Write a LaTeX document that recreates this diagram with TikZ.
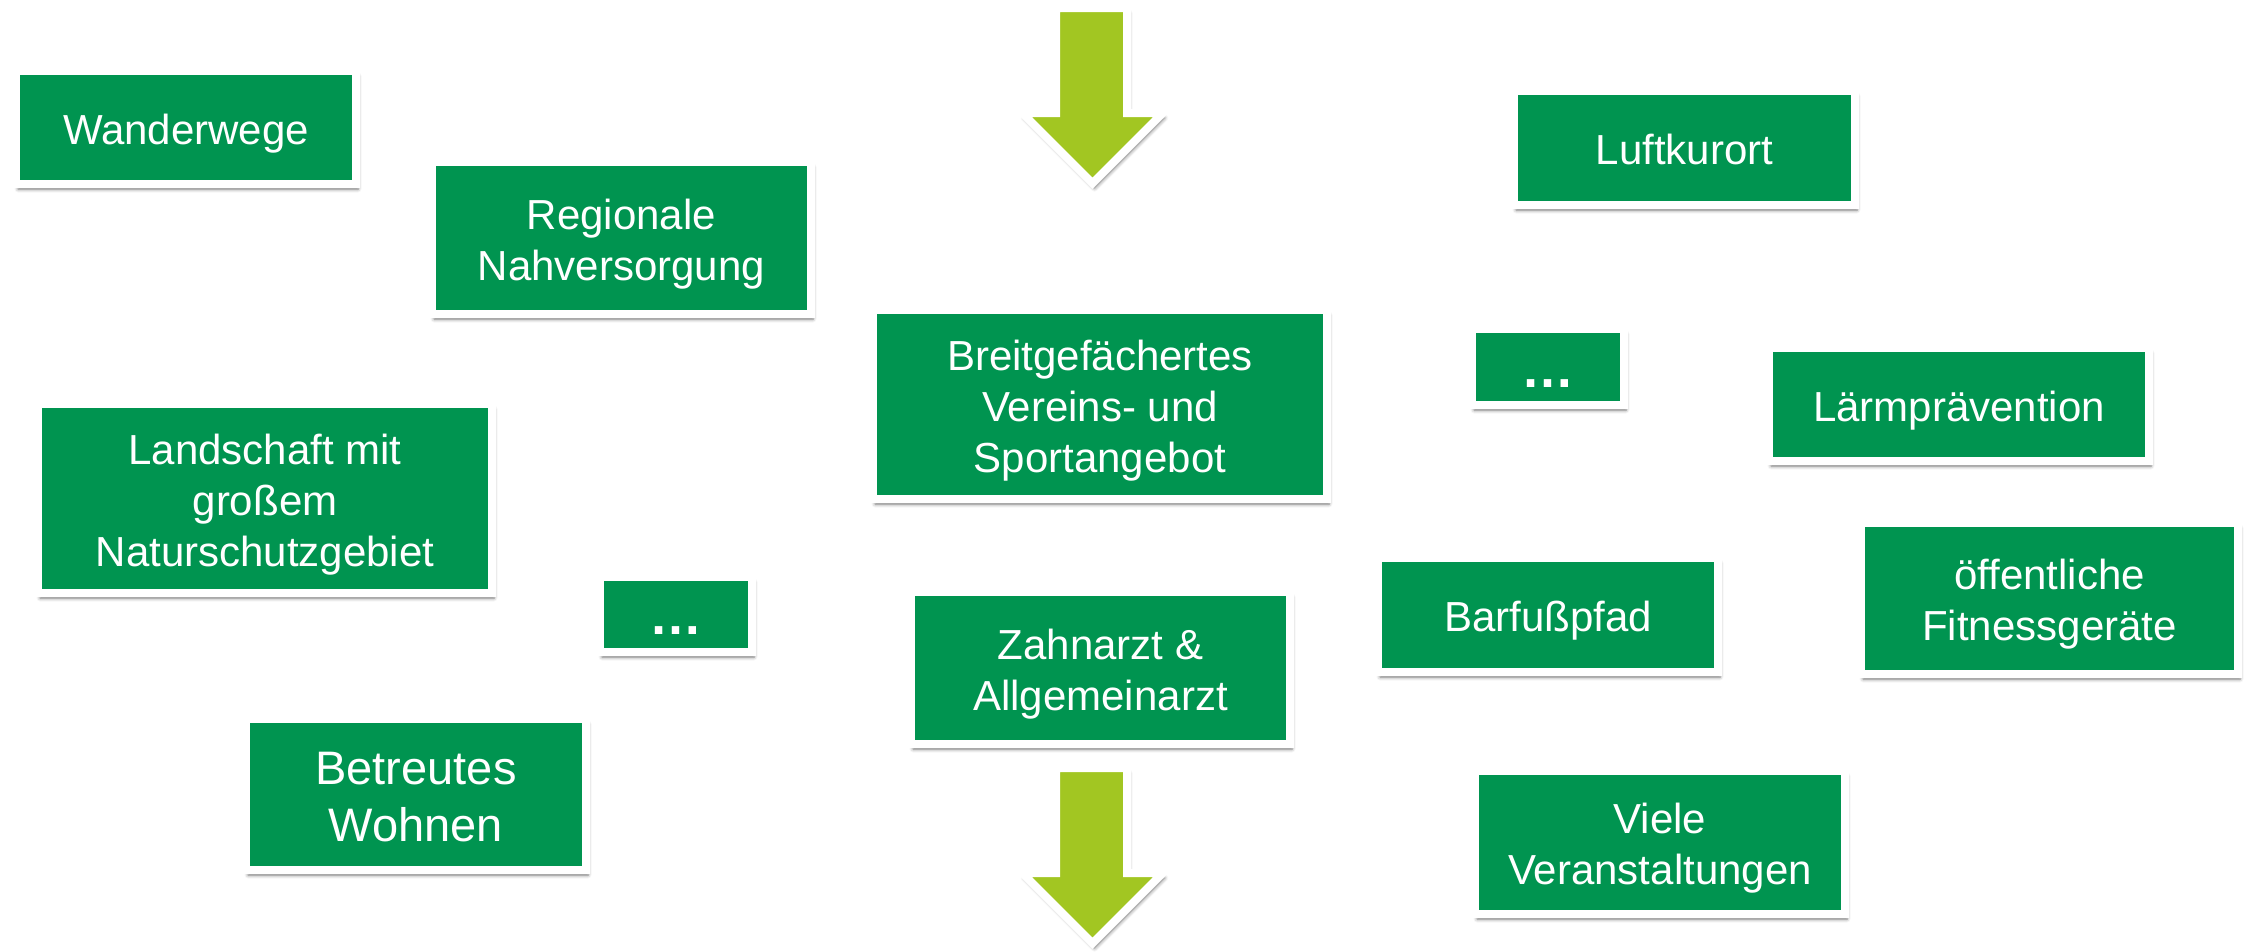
\documentclass[tikz,border=0pt]{standalone}
\usepackage{fontspec}
\setmainfont{Liberation Sans}
\usetikzlibrary{shadows.blur}
\definecolor{boxgreen}{RGB}{0,148,80}
\definecolor{arrowgreen}{RGB}{162,198,34}
\newcommand{\mytopstrut}{\rule{0pt}{1.07em}}
\tikzset{
  boxshadow/.style={blur shadow={shadow xshift=2pt, shadow yshift=-5pt, shadow blur radius=3.5pt, shadow opacity=55}},
  gbox/.style={fill=boxgreen, draw=white, line width=8pt, text=white, align=center,
    inner sep=0pt, font=\fontsize{42}{51}\selectfont, boxshadow,
    execute at end node=\rule[-0.28em]{0pt}{0pt}},
  dotbox/.style={fill=boxgreen, draw=white, line width=8pt, text=white, inner sep=0pt, boxshadow,
    font=\fontsize{53}{60}\selectfont\bfseries, text height=40pt, text depth=0pt},
  bigarrow/.style={fill=arrowgreen, draw=white, line width=8pt, miter limit=10, boxshadow},
}
\begin{document}
\begin{tikzpicture}[x=1pt,y=-1pt]
\useasboundingbox (0,0) rectangle (2252,951);
% arrows
\path[bigarrow] (1056,8) -- (1127,8) -- (1127,113) -- (1162.7,113) -- (1092.5,183.2) -- (1022.3,113) -- (1056,113) -- cycle;
\path[bigarrow] (1056,768) -- (1127,768) -- (1127,873) -- (1162.7,873) -- (1092.5,943.2) -- (1022.3,873) -- (1056,873) -- cycle;
% boxes
\node[gbox, minimum width=340pt, minimum height=113pt] (wander) at (186,127.5) {\mytopstrut Wanderwege};
\node[gbox, minimum width=379pt, minimum height=152pt] (regio) at (621.5,238) {\mytopstrut Regionale\\Nahversorgung};
\node[gbox, minimum width=454pt, minimum height=189pt] (land) at (265,498.5) {\mytopstrut Landschaft mit\\großem\\Naturschutzgebiet};
\node[dotbox, minimum width=152pt, minimum height=75pt] (dotsl) at (676,614.5) {…};
\node[gbox, minimum width=340pt, minimum height=151pt, font=\fontsize{47}{57}\selectfont] (betreut) at (416,794.5) {\mytopstrut Betreutes\\Wohnen};
\node[gbox, minimum width=454pt, minimum height=189pt] (verein) at (1100,404.5) {\mytopstrut Breitgefächertes\\Vereins- und\\Sportangebot};
\node[gbox, minimum width=379pt, minimum height=152pt] (arzt) at (1100.5,668) {\mytopstrut Zahnarzt \&\\Allgemeinarzt};
\node[gbox, minimum width=341pt, minimum height=114pt] (luft) at (1684.5,148) {\mytopstrut Luftkurort};
\node[dotbox, minimum width=152pt, minimum height=76pt] (dotsr) at (1548,367) {…};
\node[gbox, minimum width=380pt, minimum height=113pt] (laerm) at (1959,404.5) {\mytopstrut Lärmprävention};
\node[gbox, minimum width=340pt, minimum height=114pt] (barfuss) at (1548,615) {\mytopstrut Barfußpfad};
\node[gbox, minimum width=377pt, minimum height=151pt] (fitness) at (2049.5,598.5) {\mytopstrut öffentliche\\Fitnessgeräte};
\node[gbox, minimum width=370pt, minimum height=143pt] (events) at (1660,842.5) {\mytopstrut Viele\\Veranstaltungen};
\end{tikzpicture}
\end{document}
